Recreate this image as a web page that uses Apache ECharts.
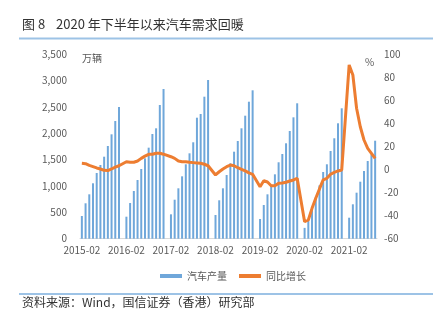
<!DOCTYPE html>
<html><head><meta charset="utf-8">
<script src="https://cdn.jsdelivr.net/npm/echarts@6/dist/echarts.min.js"></script>
<style>html,body{margin:0;padding:0;background:#fff;}#c{width:437px;height:323px;}</style>
</head><body><div id="c"></div>
<script>
var years = [2015, 2016, 2017, 2018, 2019, 2020, 2021];
var lastMonth2021 = 9;
// cumulative production (万辆), Jan null
var prod2015 = [430, 671, 841, 1050, 1245, 1397, 1554, 1757, 1978, 2230, 2496];
var prod2016 = [null, 417, 676, 904, 1112, 1321, 1523, 1725, 1984, 2092, 2534, 2837];
var prod2017 = [null, 462, 739, 955, 1182, 1410, 1618, 1827, 2293, 2363, 2691, 3007];
var prod2018 = [null, 449, 728, 955, 1207, 1429, 1649, 1851, 2092, 2331, 2596, 2812];
var prod2019 = [null, 373, 639, 841, 1018, 1220, 1448, 1605, 1808, 2041, 2300, 2566];
var prod2020 = [null, 205, 340, 560, 780, 1010, 1264, 1410, 1662, 1903, 2187, 2471];
var prod2021 = [null, 398, 652, 872, 1080, 1283, 1472, 1599, 1857];
// YoY growth (%)
var yoy2015 = [5.3, 5.0, 3.5, 2.4, 1.3, 0.4, -0.8, -1.0, 0.4, 2.0, 3.2];
var yoy2016 = [null, 6.7, 6.2, 6.2, 7.3, 9.6, 11.5, 13.1, 13.1, 14.0, 14.0, 13.2];
var yoy2017 = [null, 11.0, 9.6, 7.3, 6.7, 6.7, 6.2, 5.9, 5.6, 5.3, 4.5, 3.2];
var yoy2018 = [null, -4.8, -2.0, 0.4, 2.4, 3.8, 3.2, 1.5, 0.1, -1.3, -3.0, -4.2];
var yoy2019 = [null, -15.0, -9.8, -10.9, -14.1, -14.1, -12.0, -11.7, -11.1, -10.0, -9.1, -7.7];
var yoy2020 = [null, -45.3, -43.8, -33.7, -25.0, -16.9, -9.1, -7.7, -4.2, -2.5, -1.3, -0.5];
var yoy2021 = [null, 90.5, 81.8, 53.0, 37.0, 25.5, 18.3, 14.0, 9.6];

var leftTicks = {min: 0, max: 3500, interval: 500};
var rightTicks = {min: -60, max: 100, interval: 20};

var categories = [];
years.forEach(function (y) {
  var m0 = (y === 2015) ? 2 : 1;
  var m1 = (y === 2021) ? lastMonth2021 : 12;
  for (var m = m0; m <= m1; m++) categories.push(y + '-' + (m < 10 ? '0' + m : m));
});
var production = [].concat(prod2015, prod2016, prod2017, prod2018, prod2019, prod2020, prod2021);
var yoy = [].concat(yoy2015, yoy2016, yoy2017, yoy2018, yoy2019, yoy2020, yoy2021);

var gray = '#595959';
var font = '"Noto Sans CJK SC", "Noto Sans", sans-serif';
var chart = echarts.init(document.getElementById('c'), null, {renderer: 'canvas'});
chart.setOption({
  animation: false,
  textStyle: {fontFamily: font},
  grid: {left: 80, right: 60, top: 54, bottom: 84.3, containLabel: false},
  legend: {
    left: 155, top: 266, itemWidth: 22, itemHeight: 4, itemGap: 12,
    textStyle: {color: gray, fontSize: 10, fontFamily: font},
    data: [{name: '汽车产量', icon: 'rect'}, {name: '同比增长', icon: 'rect'}]
  },
  xAxis: {
    type: 'category', data: categories, boundaryGap: true,
    axisLine: {show: true, lineStyle: {color: '#d9d9d9', width: 1}},
    axisTick: {show: false},
    axisLabel: {interval: 11, color: gray, fontSize: 10, margin: 7, fontFamily: font}
  },
  yAxis: [{
    type: 'value', min: leftTicks.min, max: leftTicks.max, interval: leftTicks.interval,
    splitLine: {show: false}, axisLine: {show: false}, axisTick: {show: false},
    axisLabel: {color: gray, fontSize: 10, margin: 13, fontFamily: font,
      formatter: function (v) { return v.toLocaleString('en-US'); }}
  }, {
    type: 'value', min: rightTicks.min, max: rightTicks.max, interval: rightTicks.interval,
    splitLine: {show: false}, axisLine: {show: false}, axisTick: {show: false},
    axisLabel: {color: gray, fontSize: 10, margin: 7, fontFamily: font}
  }],
  series: [{
    name: '汽车产量', type: 'bar', data: production, barWidth: 2,
    itemStyle: {color: '#6fa7da'}, yAxisIndex: 0
  }, {
    name: '同比增长', type: 'line', data: yoy, yAxisIndex: 1, connectNulls: true,
    showSymbol: false, symbol: 'none', smooth: false,
    lineStyle: {color: '#ed7d31', width: 3}, itemStyle: {color: '#ed7d31'}
  }],
  graphic: [
    {type: 'text', left: 22, top: 18, style: {text: '图 8', fill: '#333', font: '13px ' + font}},
    {type: 'text', left: 56, top: 18, style: {text: '2020 年下半年以来汽车需求回暖', fill: '#333', font: '13px ' + font}},
    {type: 'rect', shape: {x: 19, y: 37.5, width: 414, height: 2}, style: {fill: '#9dc3e6'}},
    {type: 'text', left: 82, top: 53, style: {text: '万辆', fill: gray, font: '10px ' + font}},
    {type: 'text', left: 365, top: 57, style: {text: '%', fill: gray, font: '10px ' + font}},
    {type: 'rect', shape: {x: 19, y: 293, width: 414, height: 2}, style: {fill: '#9dc3e6'}},
    {type: 'text', left: 22, top: 296, style: {text: '资料来源：Wind，国信证券（香港）研究部', fill: '#333', font: '12px ' + font}}
  ]
});
</script></body></html>
